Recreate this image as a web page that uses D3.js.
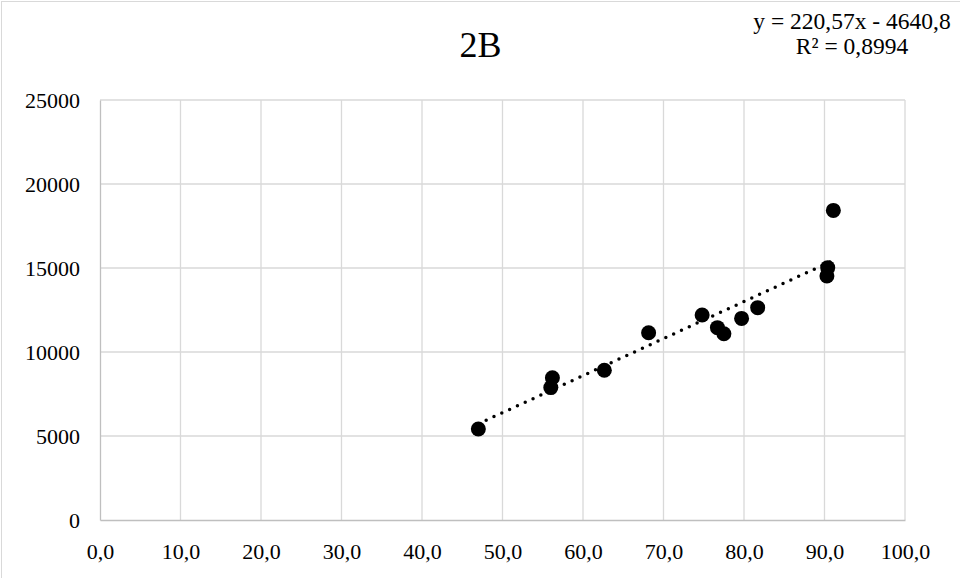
<!DOCTYPE html>
<html>
<head>
<meta charset="utf-8">
<script src="https://cdn.jsdelivr.net/npm/d3@7"></script>
<style>
  body { margin: 0; background: #fff; }
  svg text { font-family: "Liberation Serif", "Times New Roman", serif; fill: #000; }
</style>
</head>
<body>
<div id="main"></div>
<script>
// DATA
const title = "2B"
const xs = [47.0, 56.2, 56.0, 62.65, 68.15, 74.8, 76.7, 77.5, 79.7, 81.7, 90.4, 90.3, 91.1]
const ys = [5420, 8470, 7880, 8910, 11150, 12200, 11450, 11090, 12000, 12640, 15020, 14520, 18430]
const xTicks = [0, 10, 20, 30, 40, 50, 60, 70, 80, 90, 100]
const yTicks = [0, 5000, 10000, 15000, 20000, 25000]
const slope = 220.57
const intercept = -4640.8
const eqLines = ["y = 220,57x - 4640,8", "R² = 0,8994"]

// SETUP
const width = 960
const height = 578
const m = { left: 100, right: 55, top: 100, bottom: 58 }

const svg = d3.select("#main").append("svg")
    .attr("width", width)
    .attr("height", height)

svg.append("rect")
    .attr("x", 1.5).attr("y", 1.5)
    .attr("width", width + 10).attr("height", height + 10)
    .attr("fill", "#fff")
    .attr("stroke", "#d9d9d9")

const x = d3.scaleLinear().domain([0, 100]).range([m.left, width - m.right])
const y = d3.scaleLinear().domain([0, 25000]).range([height - m.bottom, m.top])

// GRID
svg.append("g")
    .selectAll("line.h")
    .data(yTicks.slice(1))
    .enter().append("line")
        .attr("x1", x(0)).attr("x2", x(100))
        .attr("y1", d => y(d)).attr("y2", d => y(d))
        .attr("stroke", "#d9d9d9").attr("stroke-width", 1.3)

svg.append("g")
    .selectAll("line.v")
    .data(xTicks.slice(1))
    .enter().append("line")
        .attr("x1", d => x(d)).attr("x2", d => x(d))
        .attr("y1", y(0)).attr("y2", y(25000))
        .attr("stroke", "#d9d9d9").attr("stroke-width", 1.3)

// AXES
const fmtX = d => d3.format(".1f")(d).replace(".", ",")

const xAxis = svg.append("g")
    .attr("transform", `translate(0,${y(0)})`)
    .call(d3.axisBottom(x).tickValues(xTicks).tickSize(0).tickPadding(23).tickFormat(fmtX))
xAxis.select(".domain").attr("stroke", "#bfbfbf").attr("stroke-width", 1.3)

const yAxis = svg.append("g")
    .attr("transform", `translate(${x(0)},0)`)
    .call(d3.axisLeft(y).tickValues(yTicks).tickSize(0).tickPadding(20).tickFormat(d3.format("d")))
yAxis.select(".domain").attr("stroke", "#bfbfbf").attr("stroke-width", 1.3)

svg.selectAll(".tick text")
    .attr("font-family", "Liberation Serif")
    .attr("font-size", 22)
    .attr("fill", "#000")

// TRENDLINE
const xMin = d3.min(xs), xMax = d3.max(xs)
svg.append("line")
    .attr("x1", x(xMin)).attr("y1", y(slope * xMin + intercept))
    .attr("x2", x(xMax)).attr("y2", y(slope * xMax + intercept))
    .attr("stroke", "#000")
    .attr("stroke-width", 3.5)
    .attr("stroke-linecap", "round")
    .attr("stroke-dasharray", "0 8.6")

// POINTS
svg.append("g")
    .selectAll("circle")
    .data(xs.map((v, i) => [v, ys[i]]))
    .enter().append("circle")
        .attr("cx", d => x(d[0]))
        .attr("cy", d => y(d[1]))
        .attr("r", 7.5)
        .attr("fill", "#000")

// TEXTS
svg.append("text")
    .attr("x", 480.5).attr("y", 57)
    .attr("text-anchor", "middle")
    .attr("font-size", 36)
    .text(title)

svg.append("g")
    .selectAll("text")
    .data(eqLines)
    .enter().append("text")
        .attr("x", 852)
        .attr("y", (d, i) => 29 + i * 25)
        .attr("text-anchor", "middle")
        .attr("font-size", 23.5)
        .text(d => d)
</script>
</body>
</html>
